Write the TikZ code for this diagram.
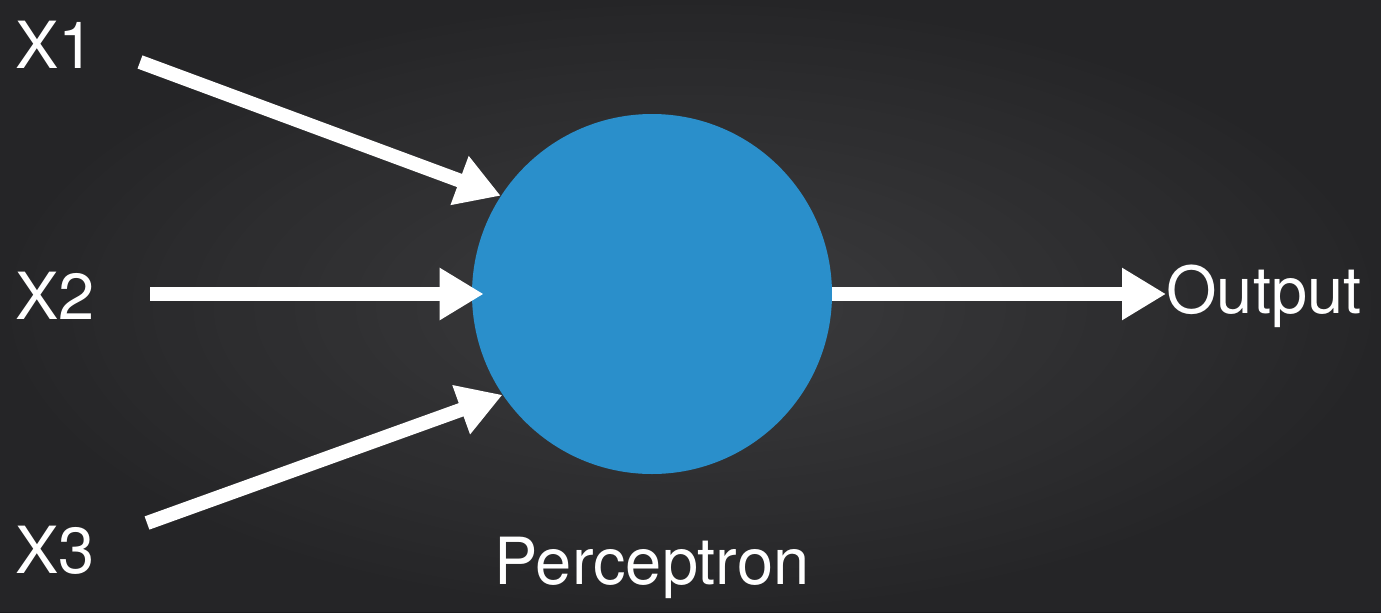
\documentclass[tikz,border=0pt]{standalone}
\usepackage{fontspec}
\setmainfont{TeX Gyre Heros}
\usetikzlibrary{arrows.meta}
\definecolor{bgmid}{HTML}{3C3C3E}
\definecolor{bgedge}{HTML}{1A1A1C}
\definecolor{nodeblue}{HTML}{2A8FCB}
\tikzset{
  lbl/.style={text=white, font=\fontsize{37}{42}\selectfont, inner sep=0pt},
  conn/.style={draw=white, line width=8pt, -{Triangle[length=25pt,width=28pt]}},
  neuron/.style={circle, fill=nodeblue, minimum size=360*0.02cm, inner sep=0pt}
}
\begin{document}
\begin{tikzpicture}[x=0.02cm,y=-0.02cm]
\useasboundingbox (0,0) rectangle (1381,612);
\shade[inner color=bgmid, outer color=bgedge] (0,0) rectangle (1381,612);
\fill[bgmid, opacity=0.35] (0,0) rectangle (1381,612);
\node[neuron] (percep) at (652,294) {};
\node[lbl] (x1) at (55,45) {X1};
\node[lbl] (x2) at (55,296) {X2};
\node[lbl] (x3) at (55,550) {X3};
\node[lbl, anchor=west] (out) at (1166,296) {Output};
\node[lbl] (plabel) at (652,568) {Perceptron};
\coordinate (a1) at (140,62);
\coordinate (a2) at (150,294);
\coordinate (a3) at (147,523);
\draw[conn] (a1) -- (percep.147);
\draw[conn] (a2) -- ([xshift=12*0.02cm]a2 -| percep.west);
\draw[conn] (a3) -- (percep.214);
\draw[conn] (percep.east) -- (percep.east -| out.west);
\end{tikzpicture}
\end{document}
